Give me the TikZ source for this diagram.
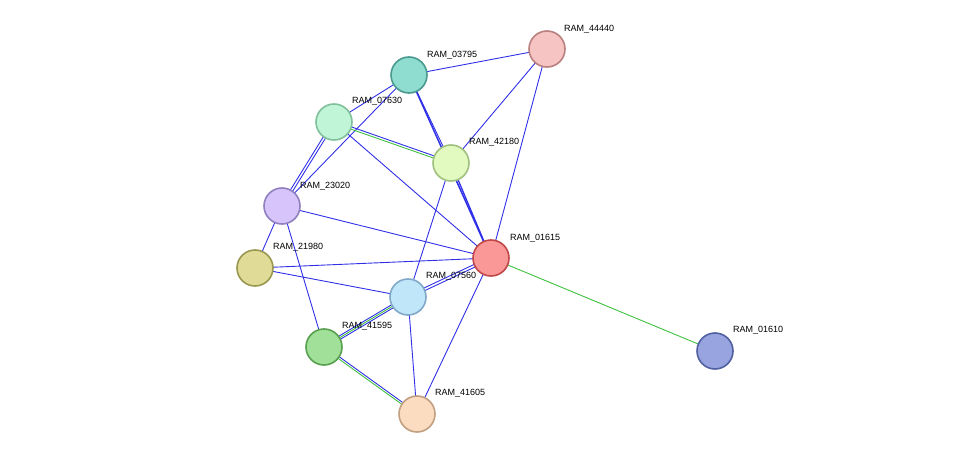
\documentclass[tikz,border=0pt]{standalone}
\usepackage{fontspec}
\setmainfont{Liberation Sans}
\usetikzlibrary{backgrounds}
\definecolor{edgeblue}{HTML}{3030E8}
\definecolor{edgegreen}{HTML}{40C040}
\definecolor{f44440}{HTML}{F7C4C4}\definecolor{d44440}{HTML}{B98080}
\definecolor{f03795}{HTML}{8FDCD0}\definecolor{d03795}{HTML}{4A9A90}
\definecolor{f07630}{HTML}{C0F5D8}\definecolor{d07630}{HTML}{80C09A}
\definecolor{f42180}{HTML}{E2FAC0}\definecolor{d42180}{HTML}{A0C080}
\definecolor{f23020}{HTML}{D6C4FA}\definecolor{d23020}{HTML}{9080C0}
\definecolor{f01615}{HTML}{FA9898}\definecolor{d01615}{HTML}{C04848}
\definecolor{f21980}{HTML}{E0DC98}\definecolor{d21980}{HTML}{9A9850}
\definecolor{f07560}{HTML}{C0E6FA}\definecolor{d07560}{HTML}{80A8C8}
\definecolor{f41595}{HTML}{A0E098}\definecolor{d41595}{HTML}{58A050}
\definecolor{f41605}{HTML}{FCDCC0}\definecolor{d41605}{HTML}{C0A080}
\definecolor{f01610}{HTML}{98A4E0}\definecolor{d01610}{HTML}{5060A0}
\tikzset{
  prot/.style={circle,minimum size=36pt,inner sep=0pt,line width=1.6pt,fill=f#1,draw=d#1},
  lbl/.style={font=\fontsize{9}{10}\selectfont,inner sep=1pt},
  bl/.style={edgeblue,line width=0.9pt},
  gr/.style={edgegreen,line width=0.9pt},
}
\begin{document}
\begin{tikzpicture}[x=1pt,y=-1pt]
  \useasboundingbox (0,0) rectangle (975,460);
  \node[prot=44440] (p44440) at (547,49) {};
  \node[prot=03795] (p03795) at (409,75) {};
  \node[prot=07630] (p07630) at (334,122) {};
  \node[prot=42180] (p42180) at (451,163) {};
  \node[prot=23020] (p23020) at (282,206) {};
  \node[prot=01615] (p01615) at (491,258) {};
  \node[prot=21980] (p21980) at (255,268) {};
  \node[prot=07560] (p07560) at (408,297) {};
  \node[prot=41595] (p41595) at (324,347) {};
  \node[prot=41605] (p41605) at (417,414) {};
  \node[prot=01610] (p01610) at (715,351) {};
  % labels
  \node[lbl,anchor=south west] (l44440) at (563,34) {RAM\_44440};
  \node[lbl,anchor=south west] (l03795) at (426,60) {RAM\_03795};
  \node[lbl,anchor=south west] (l07630) at (351,106) {RAM\_07630};
  \node[lbl,anchor=south west] (l42180) at (468,147) {RAM\_42180};
  \node[lbl,anchor=south west] (l23020) at (299,191) {RAM\_23020};
  \node[lbl,anchor=south west] (l01615) at (509,243) {RAM\_01615};
  \node[lbl,anchor=south west] (l21980) at (272,252) {RAM\_21980};
  \node[lbl,anchor=south west] (l07560) at (425,281) {RAM\_07560};
  \node[lbl,anchor=south west] (l41595) at (341,331) {RAM\_41595};
  \node[lbl,anchor=south west] (l41605) at (434,398) {RAM\_41605};
  \node[lbl,anchor=south west] (l01610) at (732,335) {RAM\_01610};
  \begin{pgfonlayer}{background}
    \draw[bl] (p03795.center) -- (p44440.center);
    \draw[bl] (p03795.center) -- (p07630.center);
    \draw[bl] (p03795.center) -- (p23020.center);
    \draw[bl] (p03795.center) -- (p42180.center);
    \draw[bl,line width=1.5pt] (p03795.center) -- (p01615.center);
    \draw[bl] (p44440.center) -- (p42180.center);
    \draw[bl] (p44440.center) -- (p01615.center);
    \draw[gr,transform canvas={yshift=-1.2pt}] (p07630.center) -- (p42180.center);
    \draw[bl,transform canvas={yshift=1.2pt}] (p07630.center) -- (p42180.center);
    \draw[bl,transform canvas={xshift=-1.5pt}] (p07630.center) -- (p23020.center);
    \draw[bl,transform canvas={xshift=1.5pt}] (p07630.center) -- (p23020.center);
    \draw[bl] (p07630.center) -- (p01615.center);
    \draw[bl,line width=1.3pt] (p42180.center) -- (p01615.center);
    \draw[bl] (p42180.center) -- (p07560.center);
    \draw[bl] (p23020.center) -- (p01615.center);
    \draw[bl] (p23020.center) -- (p21980.center);
    \draw[bl] (p23020.center) -- (p41595.center);
    \draw[bl] (p21980.center) -- (p01615.center);
    \draw[bl] (p21980.center) -- (p07560.center);
    \draw[bl,transform canvas={yshift=-1.5pt}] (p07560.center) -- (p01615.center);
    \draw[bl,transform canvas={yshift=1.5pt}] (p07560.center) -- (p01615.center);
    \draw[bl,transform canvas={yshift=-2pt}] (p07560.center) -- (p41595.center);
    \draw[gr] (p07560.center) -- (p41595.center);
    \draw[bl,transform canvas={yshift=2pt}] (p07560.center) -- (p41595.center);
    \draw[bl] (p07560.center) -- (p41605.center);
    \draw[bl] (p01615.center) -- (p41605.center);
    \draw[gr,transform canvas={yshift=-1.2pt}] (p41595.center) -- (p41605.center);
    \draw[bl,transform canvas={yshift=1.2pt}] (p41595.center) -- (p41605.center);
    \draw[gr] (p01615.center) -- (p01610.center);
  \end{pgfonlayer}
\end{tikzpicture}
\end{document}
